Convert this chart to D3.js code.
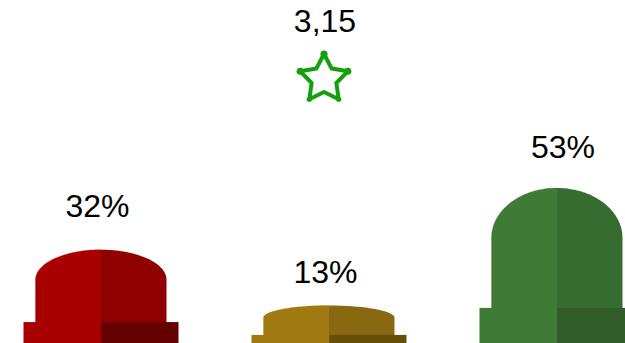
<!DOCTYPE html>
<html><head><meta charset="utf-8">
<script src="https://cdn.jsdelivr.net/npm/d3@7/dist/d3.min.js"></script>
<style>html,body{margin:0;padding:0;background:#fff;overflow:hidden}svg{display:block}</style>
</head><body><svg id="c" width="625" height="343"></svg>
<script>
const categories = ["Red","Amber","Green"];
const values = [32,13,53];
const valueLabels = ["32%","13%","53%"];
const starValue = "3,15";
const colorsLeft = ["#a80000","#a07a10","#3f7a37"];
const colorsRight = ["#900000","#886810","#376c30"];
const colorsBase = ["#640000","#665008","#305c2a"];
const starColor = "#14a00a";

const svg = d3.select("#c");
const H = 343;
const x = d3.scalePoint().domain(categories).range([101,557]);
const y = d3.scaleLinear().domain([0,53]).range([343.7,188]);
const domeHalf = 65.5, baseHalf = 77.5;
const labelDx = [-3.5,-3.5,6];
const labelGap = [32.5,22.5,30.5];

categories.forEach((c,i)=>{
  const cx = x(c), top = y(values[i]), h = y(0)-top;
  const ry = h*0.32, baseTop = y(0)-h*0.23;
  const halfDome = (sign)=>{
    const pts = d3.range(41).map(k=>{
      const a = k/40*Math.PI/2;
      return [cx+sign*domeHalf*Math.sin(a), top+ry-ry*Math.cos(a)];
    });
    pts.push([cx+sign*domeHalf,H],[cx,H]);
    return d3.line()(pts)+"Z";
  };
  svg.append("path").attr("d",halfDome(1)).attr("fill",colorsRight[i]);
  svg.append("path").attr("d",halfDome(-1)).attr("fill",colorsLeft[i]).attr("stroke",colorsLeft[i]).attr("stroke-width",0.3);
  svg.append("rect").attr("x",cx).attr("y",baseTop).attr("width",baseHalf).attr("height",H-baseTop).attr("fill",colorsBase[i]);
  svg.append("rect").attr("x",cx-baseHalf).attr("y",baseTop).attr("width",baseHalf+0.2).attr("height",H-baseTop).attr("fill",colorsLeft[i]);
  svg.append("text").attr("x",cx+labelDx[i]).attr("y",top-labelGap[i]).attr("text-anchor","middle")
    .attr("font-family","'Liberation Sans',Arial,sans-serif").attr("font-size",32).attr("fill","#000").text(valueLabels[i]);
});

// star
const sx = x(categories[1])-5, sy = 79, R = 25, r = 13;
const starPts = d3.range(10).map(k=>[k*Math.PI/5, k%2?r:R]);
const radial = d3.lineRadial().angle(d=>d[0]).radius(d=>d[1]);
const g = svg.append("g").attr("transform",`translate(${sx},${sy})`);
g.append("path").attr("d",radial(starPts)+"Z").attr("fill","none").attr("stroke",starColor).attr("stroke-width",4).attr("stroke-linejoin","round");
g.selectAll("circle").data(starPts.filter((d,k)=>k%2==0)).join("circle")
  .attr("cx",d=>d[1]*Math.sin(d[0])).attr("cy",d=>-d[1]*Math.cos(d[0]))
  .attr("r",(d,k)=>k==0||k==1||k==4?3.6:2.6).attr("fill",starColor);
svg.append("text").attr("x",325).attr("y",32).attr("text-anchor","middle")
  .attr("font-family","'Liberation Sans',Arial,sans-serif").attr("font-size",32).attr("fill","#000").text(starValue);
</script></body></html>
